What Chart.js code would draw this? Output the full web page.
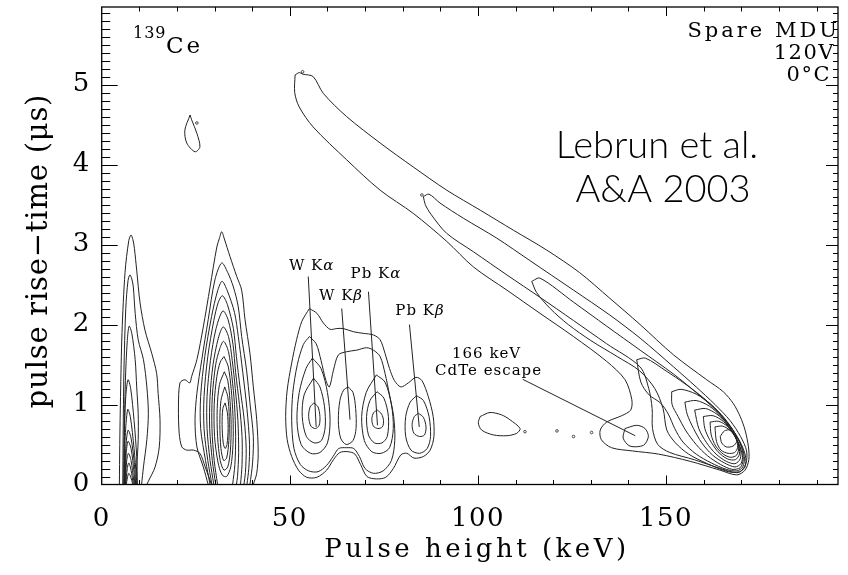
<!DOCTYPE html>
<html>
<head>
<meta charset="utf-8">
<script src="https://cdn.jsdelivr.net/npm/chart.js@4.4.1/dist/chart.umd.min.js"></script>
<style>
  html, body { margin: 0; padding: 0; background: #fff; }
  #wrap { width: 848px; height: 575px; }
</style>
</head>
<body>
<div id="wrap"><canvas id="chart" width="848" height="575"></canvas></div>
<script>
// Axis ranges / tick labels
const xRange = [0, 195.7];
const yRange = [0, 5.97];
const xTickValues = [0, 50, 100, 150];
const yTickValues = [0, 1, 2, 3, 4, 5];

// Contours, pairs of [pulse height keV, rise time us]
// narrow tall peak near 8 keV
const a1 = [[4.7,0],[4.8,0.5],[5.0,1.1],[5.4,1.9],[6.2,2.65],[7.2,3.05],[7.8,3.12],[8.3,3.06],[8.7,2.95],[9.3,2.68],[10.2,2.27],[11.5,1.93],[13.3,1.64],[14.6,1.39],[15.0,1.14],[15.5,0.81],[15.3,0.47],[14.2,0.22],[12.4,0.04],[12.0,0]];
const a2 = [[5.6,0],[5.7,0.6],[5.9,1.4],[6.4,2.2],[7.0,2.55],[7.5,2.62],[8.0,2.57],[8.4,2.47],[8.9,2.14],[9.7,1.81],[11.1,1.56],[12.0,1.22],[12.4,0.89],[12.0,0.56],[11.1,0.22],[10.6,0]];
const a3 = [[5.9,0],[6.0,0.6],[6.3,1.3],[6.8,1.8],[7.3,1.98],[8.0,1.89],[8.9,1.56],[9.3,1.22],[9.7,0.89],[9.7,0.56],[9.3,0.22],[9.0,0]];
const a4 = [[5.9,0],[6.0,0.6],[6.4,1.1],[7.0,1.31],[7.7,1.2],[8.6,0.8],[9.3,0.35],[9.5,0]];
const a5 = [[6.0,0],[6.2,0.55],[6.9,0.94],[7.6,0.85],[8.6,0.45],[9.2,0.1],[9.3,0]];
const a6 = [[6.1,0],[6.4,0.45],[7.0,0.68],[7.8,0.58],[8.7,0.25],[9.0,0]];
const a7 = [[6.2,0],[6.5,0.38],[7.0,0.54],[7.8,0.45],[8.6,0.15],[8.8,0]];
const a8 = [[6.3,0],[6.6,0.28],[7.1,0.39],[7.8,0.3],[8.5,0.05],[8.6,0]];
const a9 = [[6.4,0],[6.8,0.2],[7.2,0.27],[7.8,0.18],[8.4,0]];
const a10 = [[6.5,0],[7.2,0.14],[8.0,0.05],[8.2,0]];

// ~33 keV peak
const b1 = [[29.2,0],[27.5,0.22],[26.1,0.39],[24.4,0.43],[22.6,0.43],[21.3,0.47],[20.6,0.64],[20.4,0.97],[20.8,1.27],[22.1,1.31],[23.4,1.27],[23.9,1.35],[25.3,1.56],[27.0,1.97],[28.8,2.47],[30.6,2.97],[31.3,3.08],[31.9,3.16],[32.6,3.07],[34.1,2.85],[35.9,2.60],[37.2,2.43],[38.1,2.06],[39.4,1.64],[40.3,1.22],[41.2,0.81],[41.6,0.39],[41.2,0.14],[40.3,0]];
const b2 = [[28.3,0],[27.0,0.22],[25.3,0.47],[24.8,0.81],[25.3,1.14],[26.6,1.56],[28.3,2.06],[30.1,2.56],[31.9,2.77],[33.5,2.65],[35.0,2.47],[36.3,2.22],[37.2,1.85],[38.5,1.43],[39.4,1.02],[40.3,0.60],[40.1,0.27],[39.4,0]];
const b3 = [[28.8,0],[27.6,0.3],[26.3,0.7],[26.3,1.1],[27.4,1.6],[29.2,2.1],[30.8,2.42],[32.0,2.54],[33.4,2.42],[35.3,2.15],[36.3,1.85],[37.5,1.4],[38.6,0.95],[39.3,0.5],[39.1,0.2],[38.6,0]];
const b4 = [[29.3,0],[28.2,0.3],[27.2,0.7],[27.2,1.1],[28.2,1.6],[29.8,2.05],[31.0,2.28],[32.1,2.36],[33.4,2.25],[35.0,1.95],[35.8,1.6],[36.8,1.2],[37.9,0.8],[38.4,0.45],[38.2,0.15],[37.8,0]];
const b5 = [[29.8,0],[28.8,0.3],[28.0,0.7],[28.0,1.1],[28.9,1.55],[30.4,1.95],[32.2,2.17],[33.6,2.06],[34.9,1.75],[35.6,1.4],[36.6,1.0],[37.3,0.6],[37.3,0.25],[36.9,0]];
const b6 = [[30.3,0],[29.4,0.3],[28.7,0.7],[28.8,1.1],[29.6,1.5],[31.0,1.83],[32.3,1.97],[33.7,1.85],[34.7,1.55],[35.5,1.2],[36.2,0.8],[36.4,0.4],[36.1,0.1],[35.8,0]];
const b7 = [[30.8,0],[29.9,0.3],[29.3,0.7],[29.4,1.1],[30.3,1.5],[31.4,1.7],[32.4,1.79],[33.7,1.66],[34.6,1.35],[35.3,1.0],[35.6,0.6],[35.4,0.25],[34.8,0]];
const b8 = [[32.5,1.60],[33.6,1.48],[34.4,1.2],[34.9,0.85],[34.9,0.5],[34.3,0.22],[33.2,0.1],[32.0,0.12],[30.9,0.28],[30.0,0.6],[29.9,1.0],[30.6,1.35],[31.5,1.53],[32.5,1.60]];
const b9 = [[32.6,1.41],[33.5,1.3],[34.1,1.05],[34.4,0.75],[34.2,0.42],[33.5,0.22],[32.5,0.18],[31.5,0.3],[30.8,0.6],[30.7,0.95],[31.3,1.25],[32.6,1.41]];
const b10 = [[32.7,1.22],[33.5,1.1],[33.9,0.85],[33.8,0.55],[33.2,0.33],[32.4,0.3],[31.7,0.45],[31.4,0.75],[31.7,1.05],[32.7,1.22]];
const b11 = [[32.8,1.02],[33.4,0.9],[33.6,0.7],[33.3,0.5],[32.8,0.45],[32.3,0.52],[32.0,0.75],[32.2,0.95],[32.8,1.02]];
const island = [[23.5,4.62],[23.9,4.56],[25.3,4.39],[26.1,4.22],[24.8,4.16],[22.6,4.27],[22.1,4.43],[23.5,4.62]];

// W / Pb fluorescence lines
const c1 = [[55.2,2.20],[57.2,2.14],[58.9,2.02],[60.7,1.94],[62.5,1.95],[64.2,1.95],[66.9,1.91],[69.5,1.89],[72.2,1.87],[74.0,1.81],[75.3,1.64],[76.5,1.45],[77.8,1.3],[79.5,1.22],[81.5,1.27],[83.5,1.34],[85.1,1.3],[86.8,1.10],[88.1,0.85],[88.3,0.60],[87.3,0.43],[85.5,0.35],[83.0,0.33],[81.1,0.39],[79.5,0.37],[77.5,0.20],[75.5,0.09],[73.0,0.07],[70.5,0.1],[68.8,0.25],[67.3,0.38],[65.5,0.41],[63.3,0.40],[61.6,0.31],[59.8,0.18],[57.2,0.09],[54.5,0.09],[52.3,0.18],[50.5,0.35],[49.3,0.56],[48.9,0.85],[49.3,1.18],[50.5,1.52],[51.8,1.81],[53.2,2.04],[55.2,2.20]];
const c2 = [[55.2,1.85],[57.0,1.76],[58.3,1.55],[59.6,1.3],[60.5,1.22],[61.6,1.43],[62.9,1.62],[65.1,1.66],[67.8,1.68],[70.4,1.71],[72.2,1.68],[74.0,1.60],[75.3,1.39],[76.5,1.12],[77.6,0.85],[77.9,0.55],[77.0,0.3],[74.8,0.17],[72.2,0.14],[70.0,0.2],[68.5,0.35],[67.0,0.45],[65.0,0.46],[63.0,0.45],[61.5,0.35],[59.8,0.24],[57.5,0.16],[55.0,0.17],[52.8,0.25],[51.1,0.45],[50.5,0.8],[50.8,1.15],[52.0,1.5],[53.6,1.75],[55.2,1.85]];
const wKa1 = [[56.0,1.58],[58.3,1.45],[60.0,1.15],[60.7,0.8],[60.0,0.52],[58.0,0.4],[55.5,0.39],[53.0,0.5],[51.9,0.8],[52.5,1.15],[54.3,1.45],[56.0,1.58]];
const wKa2 = [[56.3,1.33],[58.0,1.22],[59.2,0.98],[59.4,0.72],[58.4,0.55],[56.5,0.52],[54.4,0.6],[53.3,0.85],[53.8,1.12],[56.3,1.33]];
const wKa3 = [[56.4,1.02],[57.5,0.97],[58.0,0.85],[57.8,0.74],[56.8,0.70],[55.6,0.73],[55.0,0.85],[55.4,0.97],[56.4,1.02]];
const wKb1 = [[65.5,1.22],[66.8,1.15],[67.5,0.95],[67.6,0.7],[66.8,0.55],[65.0,0.5],[63.5,0.58],[62.9,0.8],[63.3,1.05],[64.3,1.18],[65.5,1.22]];
const pbKa1 = [[73.0,1.37],[75.3,1.28],[77.0,1.0],[77.5,0.7],[76.5,0.46],[74.3,0.39],[71.8,0.41],[69.8,0.55],[69.1,0.85],[70.3,1.15],[73.0,1.37]];
const pbKa2 = [[73.2,1.16],[75.0,1.08],[76.2,0.85],[75.9,0.6],[74.5,0.52],[72.5,0.52],[70.9,0.62],[70.4,0.85],[71.3,1.05],[73.2,1.16]];
const pbKa3 = [[73.3,0.93],[74.4,0.88],[74.9,0.8],[74.6,0.72],[73.4,0.70],[72.2,0.73],[71.8,0.82],[72.3,0.9],[73.3,0.93]];
const pbKb1 = [[83.7,1.11],[85.5,1.05],[87.0,0.85],[87.4,0.6],[86.5,0.45],[84.5,0.39],[82.2,0.43],[80.8,0.6],[80.8,0.85],[82.0,1.03],[83.7,1.11]];
const pbKb2 = [[84.2,0.89],[85.5,0.84],[86.2,0.72],[85.8,0.62],[84.5,0.6],[83.0,0.64],[82.5,0.75],[83.1,0.85],[84.2,0.89]];

// 166 keV photopeak and its long tail
const d1 = [[51.4,5.12],[52.5,5.15],[53.5,5.13],[56.2,5.10],[58.9,4.89],[65.1,4.60],[74.0,4.27],[82.8,3.97],[91.7,3.68],[100.6,3.43],[109.4,3.18],[118.3,2.93],[127.0,2.65],[135.0,2.33],[143.1,2.0],[152.0,1.62],[160.8,1.31],[165.2,1.16],[167.9,1.01],[169.7,0.85],[171.0,0.68],[171.9,0.47],[172.0,0.31],[171.0,0.18],[168.8,0.12],[164.3,0.18],[156.4,0.29],[148.0,0.38],[141.0,0.42],[135.5,0.46],[132.8,0.56],[132.5,0.68],[134.2,0.78],[138.2,0.86],[140.6,0.93],[140.9,1.06],[139.1,1.31],[134.2,1.54],[125.4,1.85],[116.5,2.14],[107.7,2.43],[98.8,2.72],[91.7,3.04],[82.8,3.39],[74.0,3.68],[65.1,4.06],[56.2,4.47],[52.5,4.72],[51.3,4.9],[51.4,5.12]];
const d2 = [[85.5,3.60],[87.0,3.63],[89.9,3.52],[96.1,3.33],[105.0,3.08],[113.8,2.80],[125.4,2.43],[135.0,2.12],[143.1,1.83],[152.0,1.47],[158.0,1.22],[163.0,1.0],[167.0,0.80],[169.8,0.6],[171.4,0.42],[171.2,0.26],[169.3,0.15],[164.5,0.2],[157.5,0.31],[151.0,0.4],[147.8,0.5],[146.4,0.7],[146.3,0.95],[145.4,1.2],[143.1,1.47],[134.2,1.76],[125.4,2.05],[116.5,2.34],[107.7,2.62],[98.8,2.91],[91.7,3.14],[87.5,3.38],[86.0,3.5],[85.5,3.60]];
const d3 = [[114.3,2.54],[116.5,2.58],[125.4,2.28],[134.2,1.98],[143.1,1.68],[152.0,1.38],[158.0,1.15],[163.0,0.94],[166.8,0.74],[169.6,0.54],[171.1,0.36],[171.0,0.22],[169.5,0.16],[166.5,0.16],[161.0,0.26],[156.0,0.38],[152.5,0.52],[150.2,0.68],[149.2,0.95],[147.0,1.2],[143.0,1.42],[137.0,1.6],[130.0,1.8],[124.0,2.0],[119.2,2.2],[115.6,2.4],[114.3,2.54]];
const d4 = [[142.2,1.56],[144.5,1.58],[150.0,1.42],[155.0,1.26],[160.0,1.08],[164.0,0.9],[167.3,0.71],[169.7,0.52],[170.8,0.35],[170.4,0.22],[168.8,0.17],[166.0,0.19],[162.0,0.27],[158.0,0.38],[154.5,0.53],[152.3,0.7],[150.6,0.88],[148.5,1.02],[145.5,1.12],[143.3,1.28],[142.2,1.56]];
const d5 = [[151.5,1.16],[154.0,1.19],[158.0,1.13],[162.0,1.0],[165.5,0.83],[168.2,0.65],[170.1,0.46],[170.5,0.31],[169.7,0.21],[167.5,0.19],[164.5,0.25],[161.0,0.36],[158.0,0.5],[155.3,0.67],[153.2,0.85],[151.6,1.0],[151.5,1.16]];
const d6 = [[155.0,1.03],[158.0,1.05],[161.5,0.98],[164.6,0.85],[167.2,0.69],[169.3,0.51],[170.3,0.36],[169.9,0.26],[168.3,0.22],[165.5,0.27],[162.3,0.37],[159.5,0.52],[157.3,0.7],[155.6,0.88],[155.0,1.03]];
const d7 = [[157.6,0.93],[160.5,0.95],[163.5,0.88],[166.2,0.76],[168.4,0.6],[169.8,0.44],[169.7,0.32],[168.3,0.26],[166.0,0.29],[163.3,0.38],[160.8,0.52],[158.7,0.7],[157.6,0.93]];
const d8 = [[159.9,0.85],[162.5,0.86],[165.2,0.79],[167.6,0.66],[169.2,0.51],[169.5,0.38],[168.4,0.31],[166.3,0.32],[163.8,0.41],[161.6,0.56],[160.3,0.7],[159.9,0.85]];
const d9 = [[161.7,0.78],[164.0,0.79],[166.5,0.72],[168.4,0.6],[169.3,0.47],[168.8,0.37],[167.2,0.34],[165.2,0.38],[163.2,0.48],[162.0,0.62],[161.7,0.78]];
const d10 = [[163.0,0.72],[165.0,0.73],[167.2,0.67],[168.7,0.56],[169.0,0.46],[168.2,0.4],[166.5,0.39],[164.6,0.43],[163.4,0.54],[163.0,0.72]];
const d11 = [[164.4,0.6],[165.5,0.67],[167.0,0.68],[168.4,0.62],[168.8,0.54],[167.8,0.48],[166.0,0.47],[164.8,0.52],[164.4,0.6]];
const escapeLoop = [[139.1,0.70],[142.2,0.74],[144.4,0.70],[145.3,0.60],[144.0,0.49],[140.4,0.48],[138.6,0.58],[139.1,0.70]];
const blob105 = [[100.6,0.85],[103.2,0.90],[106.3,0.87],[108.5,0.81],[111.2,0.70],[110.3,0.64],[107.7,0.61],[104.1,0.62],[101.0,0.68],[100.1,0.77],[100.6,0.85]];
const specks = [[25.3,4.52],[53.4,5.16],[85.1,3.62],[112.5,0.66],[121.0,0.67],[125.4,0.60],[130.2,0.65]];

const contours = [a1,a2,a3,a4,a5,a6,a7,a8,a9,a10,
  b1,b2,b3,b4,b5,b6,b7,b8,b9,b10,b11,island,
  c1,c2,wKa1,wKa2,wKa3,wKb1,pbKa1,pbKa2,pbKa3,pbKb1,pbKb2,
  d1,d2,d3,d4,d5,d6,d7,d8,d9,d10,d11,escapeLoop,blob105];

// Line labels: text, label anchor [keV, us], leader line from/to
const lineLabels = [
  { text: 'W K', greek: 'α', at: [55.8, 2.68], from: [54.9, 2.60], to: [57.0, 0.72] },
  { text: 'W K', greek: 'β', at: [63.6, 2.31], from: [63.8, 2.20], to: [66.0, 0.81] },
  { text: 'Pb K', greek: 'α', at: [72.9, 2.58], from: [70.9, 2.41], to: [73.3, 0.74] },
  { text: 'Pb K', greek: 'β', at: [84.6, 2.12], from: [81.8, 2.00], to: [84.4, 0.72] },
];
const escapeLabel = { lines: ['166 keV', 'CdTe escape'], at: [102.3, 1.58], from: [111.9, 1.315], to: [141.8, 0.61] };

const INK = '#222';
const SERIF = '"DejaVu Serif", "Liberation Serif", serif';

const toPts = (arr) => arr.map(([x, y]) => ({ x, y }));

const datasets = contours.map((c) => ({
  data: toPts(c),
  showLine: true,
  borderColor: INK,
  borderWidth: 1,
  pointRadius: 0,
  tension: 0.3,
  fill: false,
}));
[...lineLabels, escapeLabel].forEach((l) => {
  datasets.push({
    data: toPts([l.from, l.to]),
    showLine: true,
    borderColor: INK,
    borderWidth: 1,
    pointRadius: 0,
    tension: 0,
  });
});
datasets.push({
  data: toPts(specks),
  showLine: false,
  pointRadius: 1.3,
  pointBorderWidth: 0.8,
  pointBorderColor: INK,
  pointBackgroundColor: '#fff',
});

// Frame with inward ticks on all four sides, plus texts
const framePlugin = {
  id: 'frame',
  beforeDraw(chart) {
    // the reference typeface is widely spaced; tick labels pick this up
    chart.ctx.letterSpacing = '1.5px';
  },
  afterDatasetsDraw(chart) {
    const { ctx, chartArea: a, scales: { x, y } } = chart;
    ctx.save();
    ctx.letterSpacing = '0px';
    ctx.strokeStyle = '#000';
    ctx.lineWidth = 1.3;
    ctx.strokeRect(a.left, a.top, a.right - a.left, a.bottom - a.top);
    ctx.lineWidth = 1;
    ctx.beginPath();
    for (let i = 1; i * 10 < xRange[1]; i++) {
      const px = Math.round(x.getPixelForValue(i * 10)) + 0.5;
      const major = i % 5 === 0;
      const len = major ? 9 : 4.5;
      ctx.moveTo(px, a.bottom); ctx.lineTo(px, a.bottom - len);
      ctx.moveTo(px, a.top); ctx.lineTo(px, a.top + len);
    }
    for (let i = 1; i / 10 < yRange[1]; i++) {
      const py = Math.round(y.getPixelForValue(i / 10)) + 0.5;
      const major = i % 10 === 0;
      ctx.moveTo(a.left, py); ctx.lineTo(a.left + (major ? 16 : 8.5), py);
      ctx.moveTo(a.right, py); ctx.lineTo(a.right - (major ? 12 : 5), py);
    }
    ctx.stroke();

    ctx.fillStyle = '#000';
    // axis titles
    ctx.font = '26px ' + SERIF;
    ctx.textAlign = 'center';
    ctx.textBaseline = 'alphabetic';
    ctx.letterSpacing = '3.5px';
    ctx.fillText('Pulse height (keV)', 477, 557);
    ctx.save();
    ctx.translate(47, 251);
    ctx.rotate(-Math.PI / 2);
    ctx.font = '29px ' + SERIF;
    ctx.letterSpacing = '0.8px';
    ctx.fillText('pulse rise\u2212time (\u03bcs)', 0, 0);
    ctx.restore();

    // source / conditions
    ctx.textAlign = 'left';
    ctx.letterSpacing = '1px';
    ctx.font = '16px ' + SERIF;
    ctx.fillText('139', 133, 38);
    ctx.font = '23px ' + SERIF;
    ctx.letterSpacing = '3px';
    ctx.fillText('Ce', 166, 53);
    ctx.textAlign = 'right';
    ctx.font = '21px ' + SERIF;
    ctx.fillText('Spare MDU', 840, 37);
    ctx.letterSpacing = '1.5px';
    ctx.fillText('120V', 835, 59);
    ctx.fillText('0\u00b0C', 831, 81);
    ctx.letterSpacing = '0px';

    ctx.textAlign = 'center';
    ctx.font = '300 38px Lato, "Liberation Sans", sans-serif';
    ctx.fillText('Lebrun et al.', 657, 158);
    ctx.fillText('A&A 2003', 663, 202);

    // line labels
    ctx.letterSpacing = '1px';
    lineLabels.forEach((l) => {
      const cx = x.getPixelForValue(l.at[0]);
      const cy = y.getPixelForValue(l.at[1]);
      ctx.font = '15px ' + SERIF;
      const w1 = ctx.measureText(l.text).width;
      ctx.font = 'italic 15px ' + SERIF;
      const w2 = ctx.measureText(l.greek).width;
      const left = cx - (w1 + w2) / 2;
      ctx.textAlign = 'left';
      ctx.font = '15px ' + SERIF;
      ctx.fillText(l.text, left, cy);
      ctx.font = 'italic 15px ' + SERIF;
      ctx.fillText(l.greek, left + w1, cy);
    });
    ctx.textAlign = 'center';
    ctx.font = '15px ' + SERIF;
    const ex = x.getPixelForValue(escapeLabel.at[0]);
    const ey = y.getPixelForValue(escapeLabel.at[1]);
    ctx.fillText(escapeLabel.lines[0], ex, ey);
    ctx.fillText(escapeLabel.lines[1], ex + 2, ey + 17);
    ctx.restore();
  },
};

new Chart(document.getElementById('chart'), {
  type: 'scatter',
  data: { datasets },
  options: {
    responsive: false,
    animation: false,
    devicePixelRatio: 1,
    layout: { padding: { top: 7, right: 10, left: 0, bottom: 0 } },
    plugins: { legend: { display: false }, tooltip: { enabled: false } },
    scales: {
      x: {
        type: 'linear',
        min: xRange[0],
        max: xRange[1],
        afterBuildTicks: (s) => { s.ticks = xTickValues.map((v) => ({ value: v })); },
        afterFit: (s) => { s.height = 90.5; s.paddingLeft = 0; s.paddingRight = 0; },
        ticks: { color: '#000', font: { family: SERIF, size: 26 }, padding: 19, maxRotation: 0 },
        grid: { display: false, drawTicks: false },
        border: { display: false },
      },
      y: {
        type: 'linear',
        min: yRange[0],
        max: yRange[1],
        afterBuildTicks: (s) => { s.ticks = yTickValues.map((v) => ({ value: v })); },
        afterFit: (s) => { s.width = 101.7; s.paddingTop = 0; s.paddingBottom = 0; },
        ticks: { color: '#000', font: { family: SERIF, size: 26 }, padding: 11 },
        grid: { display: false, drawTicks: false },
        border: { display: false },
      },
    },
  },
  plugins: [framePlugin],
});
</script>
</body>
</html>
